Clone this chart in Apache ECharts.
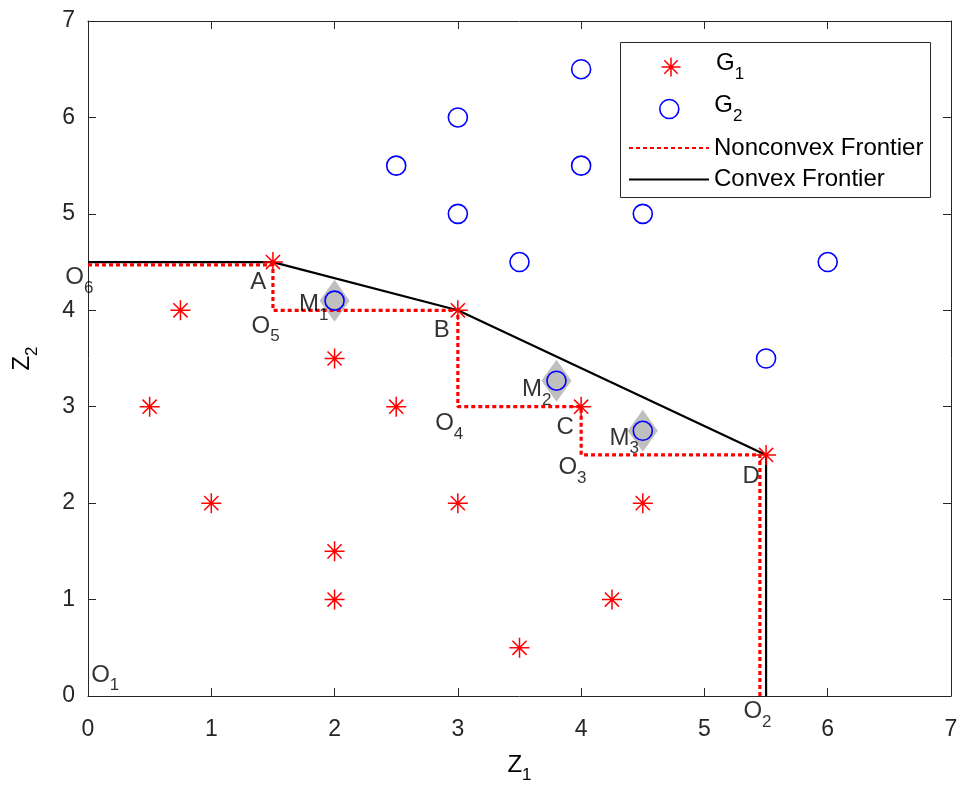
<!DOCTYPE html>
<html>
<head>
<meta charset="utf-8">
<script src="https://cdn.jsdelivr.net/npm/echarts@6/dist/echarts.min.js"></script>
<style>
  html, body { margin: 0; padding: 0; background: #ffffff; }
  #chart { width: 959px; height: 787px; }
</style>
</head>
<body>
<div id="chart"></div>
<script>
// Axis ticks
const xTicks = [0, 1, 2, 3, 4, 5, 6, 7];
const yTicks = [0, 1, 2, 3, 4, 5, 6, 7];

// Group G1 observations (asterisks)
const group1 = [
  [1.5, 4.5], [0.75, 4], [3, 4], [2, 3.5], [0.5, 3], [2.5, 3], [4, 3],
  [1, 2], [3, 2], [4.5, 2], [2, 1.5], [2, 1], [4.25, 1], [3.5, 0.5], [5.5, 2.5]
];

// Group G2 observations (circles)
const group2 = [
  [4, 6.5], [3, 6], [2.5, 5.5], [4, 5.5], [3, 5], [4.5, 5], [3.5, 4.5],
  [6, 4.5], [5.5, 3.5], [2, 4.1], [3.8, 3.27], [4.5, 2.75]
];

// Highlighted G2 points M1..M3 (grey diamonds behind the circles)
const highlighted = [[2, 4.1], [3.8, 3.27], [4.5, 2.75]];

// Step-shaped nonconvex frontier
const nonconvexFrontier = [
  [0, 4.47], [1.5, 4.47], [1.5, 4], [3, 4], [3, 3], [4, 3],
  [4, 2.5], [5.45, 2.5], [5.45, 0]
];

// Piecewise-linear convex frontier
const convexFrontier = [[0, 4.5], [1.5, 4.5], [3, 4], [5.5, 2.5], [5.5, 0]];

// Point annotations: [x, y, main letter, subscript]
const annotations = [
  [-0.07, 4.30, 'O', '6'],
  [1.38, 4.29, 'A', ''],
  [1.44, 3.80, 'O', '5'],
  [1.83, 4.02, 'M', '1'],
  [2.87, 3.79, 'B', ''],
  [2.93, 2.79, 'O', '4'],
  [3.64, 3.14, 'M', '2'],
  [3.87, 2.79, 'C', ''],
  [3.93, 2.33, 'O', '3'],
  [4.35, 2.64, 'M', '3'],
  [5.38, 2.28, 'D', ''],
  [5.43, -0.20, 'O', '2'],
  [0.14, 0.18, 'O', '1']
];

const FONT = '"Liberation Sans", Arial, Helvetica, sans-serif';
const INK = '#262626';

// Main letter sits at the top of a tall line, its subscript at the bottom
const subRich = {
  m: { fontFamily: FONT, fontSize: 24, lineHeight: 31, color: '#000', verticalAlign: 'top' },
  s: { fontFamily: FONT, fontSize: 17, lineHeight: 31, color: '#000', verticalAlign: 'bottom' },
  p: { fontFamily: FONT, fontSize: 24, lineHeight: 24, color: '#000' }
};
function subText(main, sub) {
  return sub ? '{m|' + main + '}{s|' + sub + '}' : '{p|' + main + '}';
}

const asterisk = 'path://M10,0L10,20M0,10L20,10M2.93,2.93L17.07,17.07M2.93,17.07L17.07,2.93';

const chart = echarts.init(document.getElementById('chart'), null, { renderer: 'canvas' });

function baseAxis(extra) {
  return Object.assign({
    type: 'value',
    min: 0,
    max: 7,
    interval: 1,
    axisLine: { show: true, onZero: false, lineStyle: { color: INK, width: 1 } },
    axisTick: { show: true, inside: true, length: 8, lineStyle: { color: INK, width: 1 } },
    splitLine: { show: false }
  }, extra);
}

const legendBase = {
  orient: 'vertical',
  left: 628,
  itemWidth: 80,
  itemHeight: 19,
  itemGap: 0,
  padding: 0,
  selectedMode: false,
  textStyle: { fontFamily: FONT, fontSize: 24, color: '#000', rich: subRich },
  formatter: function (name) {
    if (name === 'G1') return subText('G', '1');
    if (name === 'G2') return subText('G', '2');
    return name;
  }
};

chart.setOption({
  backgroundColor: '#ffffff',
  animation: false,
  grid: { left: 88, right: 8, top: 21, bottom: 91, containLabel: false, outerBoundsMode: 'none' },
  legend: [
    Object.assign({}, legendBase, { left: 659, top: 51.5, data: ['G1'],
      itemStyle: { borderWidth: 1.5 } }),
    Object.assign({}, legendBase, { left: 659, top: 93.5, data: ['G2'],
      itemStyle: { borderWidth: 1.6 } }),
    Object.assign({}, legendBase, { top: 136, data: ['Nonconvex Frontier'], itemStyle: { opacity: 0 } }),
    Object.assign({}, legendBase, { top: 167.5, data: ['Convex Frontier'], itemStyle: { opacity: 0 } })
  ],
  graphic: [{
    type: 'rect',
    shape: { x: 620.5, y: 42.5, width: 310, height: 155 },
    style: { fill: 'none', stroke: INK, lineWidth: 1 },
    z: 100
  }],
  xAxis: [
    baseAxis({
      position: 'bottom',
      axisLabel: {
        fontFamily: FONT, fontSize: 23, color: INK, margin: 22,
        formatter: function (v) { return xTicks.indexOf(v) >= 0 ? String(v) : ''; }
      },
      name: subText('Z', '1'),
      nameLocation: 'middle',
      nameGap: 57,
      nameTextStyle: { rich: subRich }
    }),
    baseAxis({ position: 'top', axisLabel: { show: false } })
  ],
  yAxis: [
    baseAxis({
      position: 'left',
      axisLabel: {
        fontFamily: FONT, fontSize: 23, color: INK, margin: 13,
        formatter: function (v) { return yTicks.indexOf(v) >= 0 ? String(v) : ''; }
      },
      name: subText('Z', '2'),
      nameLocation: 'middle',
      nameGap: 47,
      nameRotate: 90,
      nameTextStyle: { rich: subRich }
    }),
    baseAxis({ position: 'right', axisLabel: { show: false } })
  ],
  series: [
    {
      name: 'highlight',
      type: 'scatter',
      data: highlighted,
      symbol: 'diamond',
      symbolSize: [30, 42],
      itemStyle: { color: '#bfbfbf', opacity: 1 },
      z: 1,
      silent: true
    },
    {
      name: 'Convex Frontier',
      type: 'line',
      data: convexFrontier,
      symbol: 'none',
      lineStyle: { color: '#000000', width: 2.2 },
      itemStyle: { color: '#000000' },
      z: 3
    },
    {
      name: 'Nonconvex Frontier',
      type: 'line',
      data: nonconvexFrontier,
      symbol: 'none',
      lineStyle: { color: '#ff0000', width: 3.2, type: [4, 3] },
      itemStyle: { color: '#ff0000' },
      z: 4
    },
    {
      name: 'G1',
      type: 'scatter',
      data: group1,
      symbol: asterisk,
      symbolSize: 20,
      itemStyle: { color: 'none', borderColor: '#ff0000', borderWidth: 1.5, opacity: 1 },
      z: 5
    },
    {
      name: 'G2',
      type: 'scatter',
      data: group2,
      symbol: 'circle',
      symbolSize: 19,
      itemStyle: { color: 'rgba(0,0,0,0)', borderColor: '#0000ff', borderWidth: 1.6, opacity: 1 },
      z: 5
    },
    {
      name: 'annotations',
      type: 'scatter',
      data: annotations.map(function (a) { return [a[0], a[1]]; }),
      symbolSize: 0,
      clip: false,
      silent: true,
      z: 10,
      itemStyle: { color: 'rgba(0,0,0,0)' },
      label: {
        show: true,
        position: 'inside',
        color: '#000',
        textBorderWidth: 0,
        fontFamily: FONT,
        fontSize: 24,
        rich: subRich,
        formatter: function (p) {
          const a = annotations[p.dataIndex];
          return subText(a[2], a[3]);
        }
      }
    }
  ]
});
</script>
</body>
</html>
